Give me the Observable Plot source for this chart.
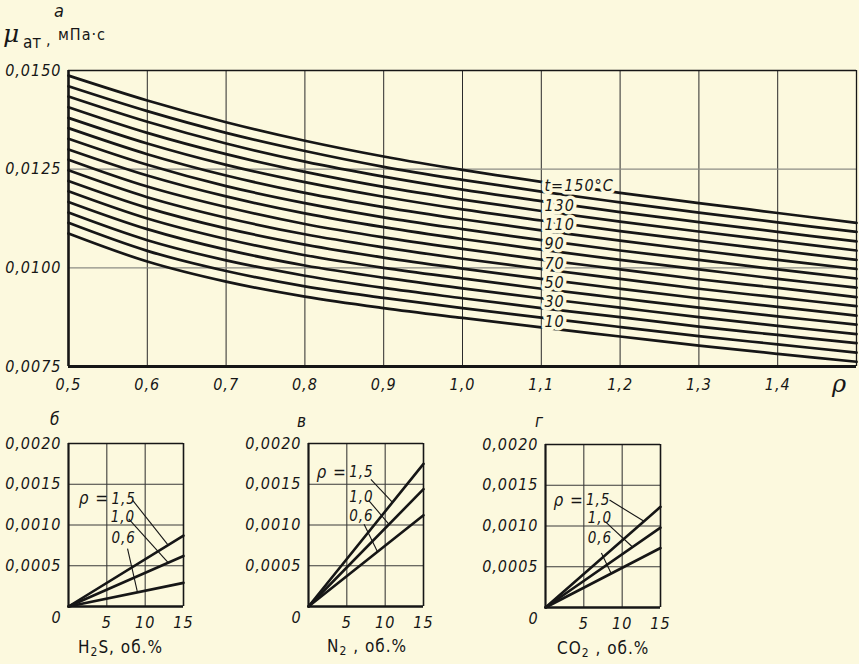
<!DOCTYPE html>
<html><head><meta charset="utf-8">
<script src="https://cdn.jsdelivr.net/npm/d3@7"></script>
<script src="https://cdn.jsdelivr.net/npm/@observablehq/plot@0.6"></script>
<style>
html,body{margin:0;padding:0;background:#fcf9de;}
#root{position:relative;width:859px;height:664px;overflow:hidden;background:#fcf9de;color:#161616;font-family:"DejaVu Sans Condensed","DejaVu Sans",sans-serif;}
#root svg{position:absolute;overflow:visible;}
.t{position:absolute;white-space:nowrap;line-height:1;}
</style></head><body><div id="root"></div>
<script>
// ---------- data: panel а (viscosity at atmospheric pressure vs relative density) ----------
const rho = [0.5, 0.6, 0.7, 0.8, 0.9, 1.0, 1.1, 1.2, 1.3, 1.4, 1.5];
const temps = [150, 140, 130, 120, 110, 100, 90, 80, 70, 60, 50, 40, 30, 20, 10, 0];
const mu150 = [0.01487, 0.01424, 0.01369, 0.01322, 0.01282, 0.01248, 0.01218, 0.01190, 0.01164, 0.01139, 0.01114];
const mu140 = [0.01460, 0.01397, 0.01342, 0.01296, 0.01256, 0.01223, 0.01193, 0.01166, 0.01140, 0.01115, 0.01091];
const mu130 = [0.01434, 0.01370, 0.01315, 0.01269, 0.01231, 0.01198, 0.01169, 0.01141, 0.01116, 0.01091, 0.01067];
const mu120 = [0.01407, 0.01342, 0.01288, 0.01243, 0.01205, 0.01173, 0.01144, 0.01117, 0.01092, 0.01068, 0.01044];
const mu110 = [0.01380, 0.01315, 0.01261, 0.01217, 0.01180, 0.01148, 0.01120, 0.01093, 0.01068, 0.01044, 0.01020];
const mu100 = [0.01354, 0.01288, 0.01234, 0.01190, 0.01154, 0.01123, 0.01095, 0.01069, 0.01044, 0.01020, 0.00997];
const mu90  = [0.01327, 0.01261, 0.01207, 0.01164, 0.01128, 0.01098, 0.01070, 0.01044, 0.01020, 0.00996, 0.00973];
const mu80  = [0.01300, 0.01234, 0.01181, 0.01138, 0.01103, 0.01073, 0.01046, 0.01020, 0.00996, 0.00972, 0.00950];
const mu70  = [0.01274, 0.01206, 0.01154, 0.01111, 0.01077, 0.01048, 0.01021, 0.00996, 0.00971, 0.00949, 0.00926];
const mu60  = [0.01247, 0.01179, 0.01127, 0.01085, 0.01052, 0.01023, 0.00997, 0.00972, 0.00947, 0.00925, 0.00903];
const mu50  = [0.01220, 0.01152, 0.01100, 0.01059, 0.01026, 0.00998, 0.00972, 0.00947, 0.00923, 0.00901, 0.00879];
const mu40  = [0.01194, 0.01125, 0.01073, 0.01032, 0.01000, 0.00973, 0.00947, 0.00923, 0.00899, 0.00877, 0.00856];
const mu30  = [0.01167, 0.01098, 0.01046, 0.01006, 0.00975, 0.00948, 0.00923, 0.00899, 0.00875, 0.00853, 0.00832];
const mu20  = [0.01140, 0.01070, 0.01019, 0.00980, 0.00949, 0.00923, 0.00898, 0.00875, 0.00851, 0.00830, 0.00809];
const mu10  = [0.01114, 0.01043, 0.00992, 0.00953, 0.00924, 0.00898, 0.00874, 0.00850, 0.00827, 0.00806, 0.00785];
const mu0   = [0.01087, 0.01016, 0.00965, 0.00927, 0.00898, 0.00873, 0.00849, 0.00826, 0.00803, 0.00782, 0.00762];
const muSeries = [mu150, mu140, mu130, mu120, mu110, mu100, mu90, mu80, mu70, mu60, mu50, mu40, mu30, mu20, mu10, mu0];
const labelTemps = [150, 130, 110, 90, 70, 50, 30, 10];
const rhoTickLabels = [0.5, 0.6, 0.7, 0.8, 0.9, 1.0, 1.1, 1.2, 1.3, 1.4];
const rhoGrid = [0.6, 0.7, 0.8, 0.9, 1.0, 1.1, 1.2, 1.3, 1.4];
const muTicks = [0.0075, 0.0100, 0.0125, 0.0150];
const muGrid = [0.0100, 0.0125];

// ---------- data: panels б, в, г (viscosity correction vs non-hydrocarbon content) ----------
const gasPct = [0, 15];
const rhoLevels = [0.6, 1.0, 1.5];
const corrH2S = [0.00029, 0.00062, 0.00087];   // values at 15 %
const corrN2  = [0.00112, 0.00144, 0.00175];
const corrCO2 = [0.00073, 0.00098, 0.001235];
const pctTicks = [5, 10, 15];
const corrTicks = [0.0005, 0.0010, 0.0015, 0.0020];

// ---------- helpers ----------
const BG = "#fcf9de", INK = "#161616";
const FONT = '"DejaVu Sans Condensed","DejaVu Sans",sans-serif';
const f1 = d => d.toFixed(1).replace(".", ",");
const f4 = d => d.toFixed(4).replace(".", ",");
const root = document.getElementById("root");
function place(svg, left, top) {
  svg.style.position = "absolute"; svg.style.left = left + "px"; svg.style.top = top + "px";
  root.appendChild(svg);
}
function txt(html, left, top, css) {
  const d = document.createElement("div");
  d.className = "t"; d.innerHTML = html;
  d.style.left = left + "px"; d.style.top = top + "px";
  Object.assign(d.style, css || {});
  root.appendChild(d);
}
const axisStyle = {background: "transparent", fontFamily: FONT, fontSize: "16px", fontStyle: "italic", letterSpacing: "1px", color: INK, overflow: "visible"};

// ---------- panel а ----------
const lineData = temps.flatMap((t, i) => rho.map((r, j) => ({t, rho: r, mu: muSeries[i][j]})));
const labelData = labelTemps.map(t => {
  const s = muSeries[temps.indexOf(t)];
  return {rho: 1.104, mu: s[6] * 0.7 + s[7] * 0.3, text: t === 150 ? "t=150°C" : String(t)};
});
const topPlot = Plot.plot({
  width: 859, height: 400,
  marginLeft: 68, marginRight: 3, marginTop: 70, marginBottom: 34,
  style: axisStyle,
  x: {domain: [0.5, 1.5], ticks: rhoTickLabels, tickFormat: f1, tickSize: 0, tickPadding: 12, label: null},
  y: {domain: [0.0075, 0.0150], ticks: muTicks, tickFormat: f4, tickSize: 0, tickPadding: 7, label: null},
  marks: [
    Plot.ruleX(rhoGrid, {stroke: "#2b2b2b", strokeWidth: 1}),
    Plot.ruleY(muGrid, {stroke: "#8c8c84", strokeWidth: 1.2}),
    Plot.line(lineData, {x: "rho", y: "mu", z: "t", curve: "catmull-rom", stroke: INK, strokeWidth: 2.7}),
    Plot.text(labelData, {x: "rho", y: "mu", text: "text", textAnchor: "start", dy: 1, fontSize: 16, fontStyle: "italic",
      fill: INK, stroke: BG, strokeWidth: 7, paintOrder: "stroke"}),
    Plot.ruleY([0.0150], {stroke: INK, strokeWidth: 1.3}),
    Plot.ruleX([1.5], {stroke: INK, strokeWidth: 1.3}),
    Plot.ruleY([0.0075], {stroke: INK, strokeWidth: 2.8}),
    Plot.ruleX([0.5], {stroke: INK, strokeWidth: 2.6})
  ]
});
place(topPlot, 0, 0);

// ---------- panels б, в, г ----------
function gasPanel(values, left, top, annot) {
  const data = rhoLevels.flatMap((r, i) => gasPct.map(p => ({r, p, c: p === 0 ? 0 : values[i]})));
  const plot = Plot.plot({
    width: 200, height: 230,
    marginLeft: 68, marginRight: 17, marginTop: 23, marginBottom: 44,
    style: axisStyle,
    x: {domain: [0, 15], ticks: pctTicks, tickFormat: d => String(d), tickSize: 0, tickPadding: 10, label: null},
    y: {domain: [0, 0.0020], ticks: corrTicks, tickFormat: f4, tickSize: 0, tickPadding: 7, label: null},
    marks: [
      Plot.ruleX([5, 10], {stroke: "#2b2b2b", strokeWidth: 1}),
      Plot.ruleY([0.0005, 0.0010, 0.0015], {stroke: "#3a3a3a", strokeWidth: 1}),
      Plot.ruleY([0.0020], {stroke: INK, strokeWidth: 1.6}),
      Plot.ruleX([15], {stroke: INK, strokeWidth: 1.6}),
      Plot.ruleY([0], {stroke: INK, strokeWidth: 2.4}),
      Plot.ruleX([0], {stroke: INK, strokeWidth: 2.2}),
      Plot.line(data, {x: "p", y: "c", z: "r", stroke: INK, strokeWidth: 2.6}),
      Plot.link(annot.links, {x1: "x1", y1: "y1", x2: "x2", y2: "y2", stroke: INK, strokeWidth: 1.1}),
      Plot.text(annot.nums, {x: "x", y: "y", text: "t", textAnchor: "start", fontSize: 15, fontStyle: "italic", fill: INK}),
      Plot.text([annot.rho], {x: "x", y: "y", text: () => "ρ =", textAnchor: "end", fontSize: 17, fontStyle: "italic", fill: INK}),
      Plot.text([0], {x: () => 0, y: () => 0, text: () => "0", dx: -12, dy: 11, fontSize: 16, fontStyle: "italic", fill: INK})
    ]
  });
  place(plot, left, top);
}
gasPanel(corrH2S, 0, 420, {
  rho: {x: 5.3, y: 0.001322},
  nums: [{x: 5.6, y: 0.001322, t: "1,5"}, {x: 5.5, y: 0.001095, t: "1,0"}, {x: 5.6, y: 0.000840, t: "0,6"}],
  links: [{x1: 8.35, y1: 0.001305, x2: 13.0, y2: 0.000754},
          {x1: 7.85, y1: 0.001075, x2: 13.0, y2: 0.000537},
          {x1: 7.7, y1: 0.00071, x2: 9.0, y2: 0.000174}]
});
gasPanel(corrN2, 240, 420, {
  rho: {x: 5.0, y: 0.001649},
  nums: [{x: 5.3, y: 0.001649, t: "1,5"}, {x: 5.3, y: 0.00134, t: "1,0"}, {x: 5.3, y: 0.001113, t: "0,6"}],
  links: [{x1: 8.13, y1: 0.001559, x2: 10.96, y2: 0.001279},
          {x1: 7.87, y1: 0.0013, x2: 10.5, y2: 0.001008},
          {x1: 7.25, y1: 0.00101, x2: 9.0, y2: 0.000672}]
});
gasPanel(corrCO2, 477, 421, {
  rho: {x: 5.0, y: 0.001318},
  nums: [{x: 5.27, y: 0.001318, t: "1,5"}, {x: 5.5, y: 0.001095, t: "1,0"}, {x: 5.5, y: 0.000848, t: "0,6"}],
  links: [{x1: 8.35, y1: 0.001318, x2: 12.85, y2: 0.001058},
          {x1: 7.93, y1: 0.001041, x2: 11.35, y2: 0.000742},
          {x1: 7.29, y1: 0.000669, x2: 8.57, y2: 0.000417}]
});

// ---------- titles and axis captions ----------
txt("а", 54, 2, {fontSize: "18px", fontStyle: "italic"});
txt("μ", 3, 21, {fontSize: "25px", fontStyle: "italic", fontFamily: '"DejaVu Serif",serif'});
txt("ат", 23, 34, {fontSize: "17px"});
txt(",", 46, 32, {fontSize: "16px"});
txt("мПа·с", 58, 27, {fontSize: "16px", letterSpacing: "1px"});
txt("ρ", 832, 372, {fontSize: "24px", fontStyle: "italic", fontFamily: '"DejaVu Serif",serif'});
txt("б", 50, 411, {fontSize: "17px", fontStyle: "italic"});
txt("в", 297, 413, {fontSize: "17px", fontStyle: "italic"});
txt("г", 535, 413, {fontSize: "17px", fontStyle: "italic"});
const subCss = '<sub style="font-size:12px;vertical-align:-3px">2</sub>';
txt("H" + subCss + "S, об.%", 78, 639, {fontSize: "17px", letterSpacing: "1px"});
txt("N" + subCss + " , об.%", 327, 638, {fontSize: "17px", letterSpacing: "1px"});
txt("CO" + subCss + " , об.%", 557, 640, {fontSize: "17px", letterSpacing: "1px"});
</script></body></html>
